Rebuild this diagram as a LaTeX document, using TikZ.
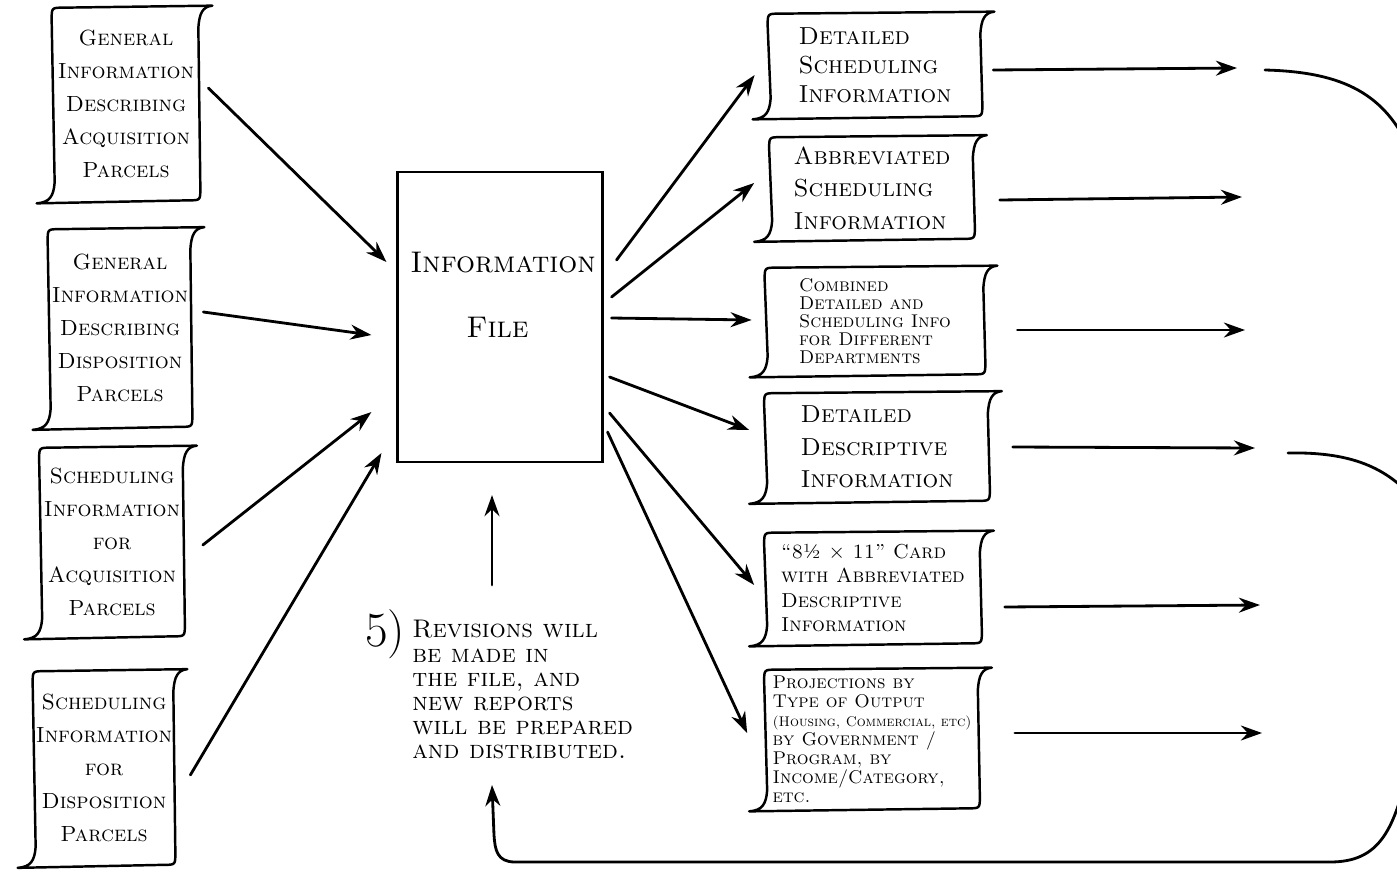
\documentclass[tikz,border=0pt]{standalone}
\usetikzlibrary{arrows.meta,calc}

% curled sheet outline drawn around a node
\newcommand\papersheet[1]{%
  \draw[sheetline]
    ($(#1.south west)+(-15,3)$)
    .. controls ($(#1.south west)+(-2,2)$) and ($(#1.south west)+(2,-4)$) .. ($(#1.south west)+(3,-18)$)
    -- ($(#1.north west)+(0,12)$)
    .. controls ($(#1.north west)$) .. ($(#1.north west)+(12,0)$)
    -- ($(#1.north east)+(12,-2)$)
    .. controls ($(#1.north east)+(2,-1)$) and ($(#1.north east)+(-1,6)$) .. ($(#1.north east)+(-2,20)$)
    -- ($(#1.south east)+(0,-12)$)
    .. controls ($(#1.south east)$) .. ($(#1.south east)+(-12,0)$)
    -- cycle;}

\tikzset{
  hand/.style={line width=1.6pt, line cap=round, line join=round},
  sheetline/.style={hand, line width=1.4pt},
  arr/.style={hand, -{Stealth[length=12pt,width=8.5pt]}},
  sz/.style 2 args={minimum width=#1*0.02cm, minimum height=#2*0.02cm},
  ldoc/.style={inner sep=0pt, align=center, font=\fontsize{12.5}{18.8}\selectfont\scshape},
  rdoc/.style={inner sep=0pt, align=left, font=#1\scshape},
}

\begin{document}
\begin{tikzpicture}[x=0.02cm,y=-0.02cm]
\useasboundingbox (0,0) rectangle (1397,886);
\clip (0,0) rectangle (1397,886);

% input sheets
\node[ldoc, sz={148}{192}] (d1) at (126,104) {General\\Information\\Describing\\Acquisition\\Parcels};
\node[ldoc, sz={144}{197}] (d2) at (120,328) {General\\Information\\Describing\\Disposition\\Parcels};
\node[ldoc, sz={145}{188}] (d3) at (112,542) {Scheduling\\Information\\for\\Acquisition\\Parcels};
\node[ldoc, sz={142}{193}] (d4) at (104,768) {Scheduling\\Information\\for\\Disposition\\Parcels};
\papersheet{d1}\papersheet{d2}\papersheet{d3}\papersheet{d4}

% central file
\node[draw, line width=1.2pt, sz={205}{290}] (file) at (500,317) {};
\node[anchor=west, inner sep=0pt, font=\fontsize{17}{20}\selectfont\scshape] (ftitle) at (410,263) {Information};
\node[anchor=west, inner sep=0pt, font=\fontsize{17}{20}\selectfont\scshape] (ftitle2) at (466,327) {File};

% revision note
\node[inner sep=0pt, font=\fontsize{28}{28}\selectfont] (five) at (385,634) {5)};
\node[anchor=north west, inner sep=0pt, align=left, font=\fontsize{14.5}{13.8}\selectfont\scshape] (note) at (412,620)
  {Revisions will\\be made in\\the file, and\\new reports\\will be prepared\\and distributed.};

% output sheets
\node[rdoc={\fontsize{14}{16.5}\selectfont}, sz={214}{102}] (r1) at (875,65) {Detailed\\Scheduling\\Information};
\node[rdoc={\fontsize{14}{18.5}\selectfont}, sz={205}{101}] (r2) at (872,188) {Abbreviated\\Scheduling\\Information};
\node[rdoc={\fontsize{10.5}{10.2}\selectfont}, sz={220}{106}] (r3) at (875,321) {Combined\\Detailed and\\Scheduling Info\\for Different\\Departments};
\node[rdoc={\fontsize{14}{18.5}\selectfont}, sz={225}{107}] (r4) at (877,447) {Detailed\\Descriptive\\Information};
\node[rdoc={\fontsize{11.5}{14}\selectfont}, sz={217}{110}] (r5) at (873,588) {``8\textonehalf{} $\times$ 11'' Card\\with Abbreviated\\Descriptive\\Information};
\node[rdoc={\fontsize{10.5}{10.8}\selectfont}, sz={215}{138}] (r6) at (872,739)
  {Projections by\\Type of Output\\{\fontsize{8}{10.8}\selectfont (Housing, Commercial, etc)}\\by Government /\\Program, by\\Income/Category,\\etc.};
\papersheet{r1}\papersheet{r2}\papersheet{r3}\papersheet{r4}\papersheet{r5}\papersheet{r6}

% inputs into the file
\draw[arr] ($(d1.east)+(8,-16)$) -- ($(file.west)+(-10,-55)$);
\draw[arr] ($(d2.east)+(11,-16)$) -- ($(file.west)+(-25,18)$);
\draw[arr] ($(d3.east)+(18,3)$) -- ($(file.west)+(-25,95)$);
\draw[arr] ($(d4.east)+(15,7)$) -- ($(file.west)+(-15,136)$);

% revisions feed back into the file
\coordinate (upstart) at (492,585);
\draw[arr] (upstart) -- ($(file.south)+(-8,32)$);

% reports out of the file
\draw[arr] ($(file.east)+(13,-57)$) -- ($(r1.west)+(-13,10)$);
\draw[arr] ($(file.east)+(8,-20)$) -- ($(r2.west)+(-15,-5)$);
\draw[arr] ($(file.east)+(8,1)$) -- ($(r3.west)+(-13,-1)$);
\draw[arr] ($(file.east)+(6,60)$) -- ($(r4.west)+(-15,-17)$);
\draw[arr] ($(file.east)+(6,96)$) -- ($(r5.west)+(-10,-3)$);
\draw[arr] ($(file.east)+(4,115)$) -- ($(r6.west)+(-17,-6)$);

% distribution arrows
\coordinate (o1) at (1237,68);
\coordinate (o2) at (1242,197);
\coordinate (o3) at (1245,330);
\coordinate (o4) at (1255,448);
\coordinate (o5) at (1260,605);
\coordinate (o6) at (1262,733);
\draw[arr] ($(r1.east)+(11,5)$) -- (o1);
\draw[arr] ($(r2.east)+(25,12)$) -- (o2);
\draw[arr] ($(r3.east)+(32,9)$) -- (o3);
\draw[arr] ($(r4.east)+(23,0)$) -- (o4);
\draw[arr] ($(r5.east)+(23,19)$) -- (o5);
\draw[arr] ($(r6.east)+(35,-6)$) -- (o6);

% return loop
\coordinate (fb1) at (1265,70);
\coordinate (fb2) at (1288,453);
\coordinate (fbend) at (492,785);
\draw[hand] (fb1) .. controls (1345,72) and (1385,95) .. (1410,150);
\draw[hand] (fb2) .. controls (1340,452) and (1380,462) .. (1410,495);
\draw[arr] (1410,760) .. controls (1395,830) and (1380,862) .. (1330,862)
  -- (515,862) .. controls (497,862) and (495,850) .. (494,835) -- (fbend);
\end{tikzpicture}
\end{document}
